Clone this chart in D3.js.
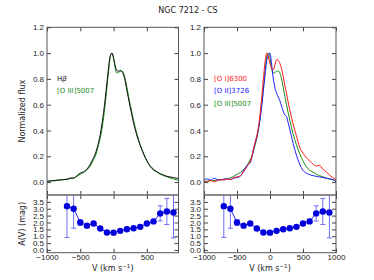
<!DOCTYPE html>
<html>
<head>
<meta charset="utf-8">
<script src="https://cdn.jsdelivr.net/npm/d3@7"></script>
<style>
  body { margin: 0; background: #fff; }
  svg { font-family: "DejaVu Sans", sans-serif; }
  .tick text { font-size: 8px; fill: #222; }
  .tick line { stroke: #444; }
</style>
</head>
<body>
<div id="chart"></div>
<script>
// velocity grid of the spectra (km/s)
const velocity = [-1000,-950,-900,-850,-800,-750,-700,-650,-600,-550,-500,-450,-400,-350,-300,
  -275,-250,-225,-200,-175,-150,-125,-100,-75,-50,-25,0,25,50,75,100,125,150,175,200,225,250,275,
  300,350,400,450,500,550,600,650,700,750,800,850,900,950,1000];

// normalized line profiles
const hBeta = [0.005,0.010,0.012,0.015,0.018,0.020,0.022,0.032,0.030,0.050,0.070,0.080,0.100,0.140,0.190,
  0.220,0.260,0.310,0.370,0.450,0.540,0.650,0.770,0.890,0.980,1.000,0.960,0.900,0.865,0.860,0.865,0.855,0.830,0.780,0.710,0.645,0.580,0.520,
  0.460,0.360,0.285,0.220,0.165,0.125,0.100,0.080,0.065,0.055,0.045,0.040,0.035,0.030,0.028];
const o3_5007 = [0.005,0.008,0.010,0.012,0.015,0.018,0.022,0.027,0.033,0.045,0.060,0.075,0.095,0.125,0.175,
  0.200,0.240,0.290,0.340,0.410,0.500,0.610,0.730,0.860,0.970,1.000,0.960,0.880,0.845,0.850,0.860,0.862,0.845,0.800,0.735,0.665,0.600,0.540,
  0.480,0.375,0.290,0.220,0.165,0.120,0.092,0.078,0.062,0.050,0.042,0.032,0.024,0.018,0.014];
const o1_6300 = [0.010,0.000,0.015,0.002,0.010,0.020,0.015,0.025,0.020,0.035,0.040,0.050,0.080,0.120,0.160,
  0.200,0.260,0.310,0.360,0.430,0.530,0.660,0.800,0.930,1.000,0.970,0.920,0.880,0.870,0.910,0.950,0.945,0.920,0.880,0.820,0.750,0.690,0.620,
  0.560,0.450,0.360,0.270,0.225,0.190,0.165,0.140,0.125,0.130,0.100,0.080,0.055,0.035,0.020];
const o2_3726 = [0.020,0.025,0.015,0.030,0.020,0.018,0.022,0.025,0.020,0.030,0.035,0.045,0.090,0.130,0.150,
  0.190,0.250,0.300,0.350,0.410,0.490,0.590,0.710,0.830,0.940,0.990,1.000,0.910,0.800,0.730,0.690,0.660,0.630,0.590,0.550,0.520,0.510,0.460,
  0.410,0.300,0.210,0.140,0.090,0.070,0.058,0.050,0.045,0.040,0.035,0.030,0.025,0.020,0.000];

// extinction per velocity bin
const avVelocity = [-700,-600,-500,-400,-300,-200,-100,0,100,200,300,400,500,600,700,800,900];
const avValue = [3.19,3.00,2.00,1.77,1.93,1.56,1.27,1.26,1.39,1.51,1.58,1.68,1.93,2.08,2.66,2.80,2.73];
const avError = [2.28,1.42,0.20,0.07,0.06,0.06,0.05,0.05,0.05,0.05,0.05,0.06,0.08,0.15,0.55,0.95,1.85];

const fluxTicks = [0.0,0.2,0.4,0.6,0.8,1.0,1.2];
const avTicks = [0.0,0.5,1.0,1.5,2.0,2.5,3.0,3.5];

const svgWidth = 374, svgHeight = 280;
const svg = d3.select("#chart").append("svg")
  .attr("width", svgWidth).attr("height", svgHeight);

const topY = 27.3, midY = 195, botY = 252.7;
const yFlux = d3.scaleLinear().domain([-0.1, 1.2]).range([midY, topY]);
const yAv = d3.scaleLinear().domain([-0.2, 4.0]).range([botY, midY]);

const fmtV = d => d < 0 ? "\u2212" + Math.abs(d) : String(d);

svg.append("text")
  .attr("x", 188).attr("y", 12.5)
  .attr("text-anchor", "middle")
  .style("font-size", "8px").attr("fill", "#222")
  .text("NGC 7212 - CS");

function panel(opts) {
  const x = d3.scaleLinear().domain(opts.xDomain).range([opts.x0, opts.x1]);
  const id = opts.id;

  const defs = svg.append("defs");
  defs.append("clipPath").attr("id", "clipTop" + id)
    .append("rect").attr("x", opts.x0).attr("y", topY)
    .attr("width", opts.x1 - opts.x0).attr("height", midY - topY);
  defs.append("clipPath").attr("id", "clipBot" + id)
    .append("rect").attr("x", opts.x0).attr("y", midY)
    .attr("width", opts.x1 - opts.x0).attr("height", botY - midY);

  // spectra
  const line = d3.line()
    .x((d, i) => x(velocity[i]))
    .y(d => yFlux(d))
    .curve(d3.curveMonotoneX);
  const lines = svg.append("g").attr("clip-path", `url(#clipTop${id})`);
  opts.series.forEach(s => {
    lines.append("path")
      .attr("d", line(s.values))
      .attr("fill", "none")
      .attr("stroke", s.color)
      .attr("stroke-width", 1);
  });

  // legend labels
  opts.series.slice().reverse().forEach((s, i) => {
    const t = svg.append("text")
      .attr("x", opts.x0 + 10).attr("y", 80.5 + i * 12.5)
      .attr("fill", s.color)
      .style("font-size", "7px");
    if (s.name === "Hb") {
      t.append("tspan").text("H");
      t.append("tspan").style("font-style", "italic").text("\u03b2");
    } else {
      t.text(s.name);
    }
  });

  // A(V) points
  const bot = svg.append("g").attr("clip-path", `url(#clipBot${id})`);
  avVelocity.forEach((v, i) => {
    const cx = x(v);
    const y1 = yAv(avValue[i] + avError[i]), y2 = yAv(avValue[i] - avError[i]);
    bot.append("line").attr("x1", cx).attr("x2", cx).attr("y1", y1).attr("y2", y2)
      .attr("stroke", "#6f6fff").attr("stroke-width", 1);
    [y1, y2].forEach(yy => bot.append("line")
      .attr("x1", cx - 2.5).attr("x2", cx + 2.5).attr("y1", yy).attr("y2", yy)
      .attr("stroke", "#6f6fff").attr("stroke-width", 1));
  });
  bot.append("path")
    .attr("d", d3.line().x((d, i) => x(avVelocity[i])).y(d => yAv(d))(avValue))
    .attr("fill", "none").attr("stroke", "#2a2aff").attr("stroke-width", 1);
  bot.selectAll("circle.av").data(avValue).enter().append("circle")
    .attr("class", "av")
    .attr("cx", (d, i) => x(avVelocity[i]))
    .attr("cy", d => yAv(d))
    .attr("r", 3.2)
    .attr("fill", "#0000dd");

  // axes
  const xTicks = opts.xTicks;
  svg.append("g").attr("transform", `translate(0,${botY})`)
    .call(d3.axisBottom(x).tickValues(xTicks).tickFormat(fmtV).tickSizeInner(-4).tickSizeOuter(0).tickPadding(2))
    .call(g => g.select(".domain").remove());
  [topY, midY].forEach(yy => svg.append("g").attr("transform", `translate(0,${yy})`)
    .call(d3.axisTop(x).tickValues(xTicks).tickFormat("").tickSizeInner(-4).tickSizeOuter(0))
    .call(g => g.select(".domain").remove()));
  svg.append("g").attr("transform", `translate(0,${midY})`)
    .call(d3.axisBottom(x).tickValues(xTicks).tickFormat("").tickSizeInner(-4).tickSizeOuter(0))
    .call(g => g.select(".domain").remove());

  svg.append("g").attr("transform", `translate(${opts.x0},0)`)
    .call(d3.axisLeft(yFlux).tickValues(fluxTicks).tickFormat(d3.format(".1f")).tickSizeInner(-4).tickSizeOuter(0).tickPadding(3))
    .call(g => g.select(".domain").remove());
  svg.append("g").attr("transform", `translate(${opts.x1},0)`)
    .call(d3.axisRight(yFlux).tickValues(fluxTicks).tickFormat("").tickSizeInner(-4).tickSizeOuter(0))
    .call(g => g.select(".domain").remove());
  svg.append("g").attr("transform", `translate(${opts.x0},0)`)
    .call(d3.axisLeft(yAv).tickValues(avTicks).tickFormat(d3.format(".1f")).tickSizeInner(-4).tickSizeOuter(0).tickPadding(3))
    .call(g => g.select(".domain").remove());
  svg.append("g").attr("transform", `translate(${opts.x1},0)`)
    .call(d3.axisRight(yAv).tickValues(avTicks).tickFormat("").tickSizeInner(-4).tickSizeOuter(0))
    .call(g => g.select(".domain").remove());

  // frames
  svg.append("rect").attr("x", opts.x0).attr("y", topY)
    .attr("width", opts.x1 - opts.x0).attr("height", botY - topY)
    .attr("fill", "none").attr("stroke", "#555").attr("stroke-width", 1);
  svg.append("line").attr("x1", opts.x0).attr("x2", opts.x1)
    .attr("y1", midY).attr("y2", midY)
    .attr("stroke", "#666").attr("stroke-width", 1.6);

  // x label
  const xl = svg.append("text")
    .attr("x", (opts.x0 + opts.x1) / 2).attr("y", 270.5)
    .attr("text-anchor", "middle")
    .style("font-size", "8px").attr("fill", "#222");
  xl.append("tspan").text("V (km s");
  xl.append("tspan").attr("dy", -3).style("font-size", "5.5px").text("\u22121");
  xl.append("tspan").attr("dy", 3).text(")");
}

panel({
  id: "L", x0: 47, x1: 178.5, xDomain: [-1000, 975], xTicks: [-1000, -500, 0, 500],
  series: [
    { name: "[O III]5007", values: o3_5007, color: "#1a8a1a" },
    { name: "Hb", values: hBeta, color: "#111" }
  ]
});
panel({
  id: "R", x0: 204, x1: 336, xDomain: [-1000, 1000], xTicks: [-1000, -500, 0, 500, 1000],
  series: [
    { name: "[O III]5007", values: o3_5007, color: "#1a8a1a" },
    { name: "[O II]3726", values: o2_3726, color: "#2020ff" },
    { name: "[O I]6300", values: o1_6300, color: "#ff1a1a" }
  ]
});

// y labels
svg.append("text")
  .attr("transform", `translate(25,${(topY + midY) / 2}) rotate(-90)`)
  .attr("text-anchor", "middle")
  .style("font-size", "8px").attr("fill", "#222")
  .text("Normalized flux");
svg.append("text")
  .attr("transform", `translate(25,${(midY + botY) / 2}) rotate(-90)`)
  .attr("text-anchor", "middle")
  .style("font-size", "8px").attr("fill", "#222")
  .text("A(V) (mag)");
</script>
</body>
</html>
